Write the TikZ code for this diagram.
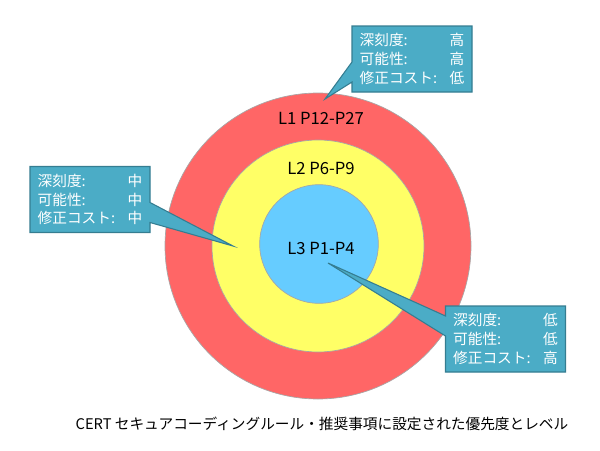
\documentclass[tikz,border=0pt]{standalone}
\usepackage{fontspec}
\setmainfont{Noto Sans CJK JP}
\usetikzlibrary{shapes.callouts}

\definecolor{levelred}{HTML}{FF6666}
\definecolor{levelyellow}{HTML}{FFFF66}
\definecolor{levelblue}{HTML}{66CCFF}
\definecolor{infofill}{HTML}{4BACC6}
\definecolor{infoborder}{HTML}{357D91}

\newcommand{\inforow}[2]{\makebox[67.5pt][l]{#1}#2}

\begin{document}
\begin{tikzpicture}[x=0.75pt, y=-0.75pt,
  level/.style={circle, draw=gray!70, fill=#1, line width=0.5pt, inner sep=0pt},
  levellabel/.style={font=\fontsize{12.5}{14}\selectfont},
  info/.style={rectangle callout, draw=infoborder, fill=infofill, text=white, line width=0.8pt,
    minimum width=90pt, minimum height=49.5pt, inner sep=0pt, align=left,
    font=\fontsize{11}{14}\selectfont, callout pointer width=15pt}]

\useasboundingbox (0,0) rectangle (600,450);

% circles
\node(l1) [level=levelred, minimum size=229.5pt] at (318,246) {};
\node(l2) [level=levelyellow, minimum size=159pt] at (318,246) {};
\node(l3) [level=levelblue, minimum size=89pt] at (319,244) {};

\node(l1text) [levellabel] at (321,118) {L1 P12-P27};
\node(l2text) [levellabel] at (321,168) {L2 P6-P9};
\node(l3text) [levellabel] at (321,248) {L3 P1-P4};

% pointer tips
\coordinate(tip1) at (325,99);
\coordinate(tip2) at (233,246);
\coordinate(tip3) at (328,263);

% callouts
\node(info1) [info, callout absolute pointer={(tip1)}] at (412,59)
  {\inforow{深刻度:}{高}\\\inforow{可能性:}{高}\\\inforow{修正コスト:}{低}};
\node(info2) [info, callout absolute pointer={(tip2)}] at (90,199.5)
  {\inforow{深刻度:}{中}\\\inforow{可能性:}{中}\\\inforow{修正コスト:}{中}};
\node(info3) [info, callout absolute pointer={(tip3)}] at (505.5,339)
  {\inforow{深刻度:}{低}\\\inforow{可能性:}{低}\\\inforow{修正コスト:}{高}};

\node(caption) [font=\fontsize{11}{13}\selectfont] at (322,424) {CERT セキュアコーディングルール・推奨事項に設定された優先度とレベル};

\end{tikzpicture}
\end{document}
